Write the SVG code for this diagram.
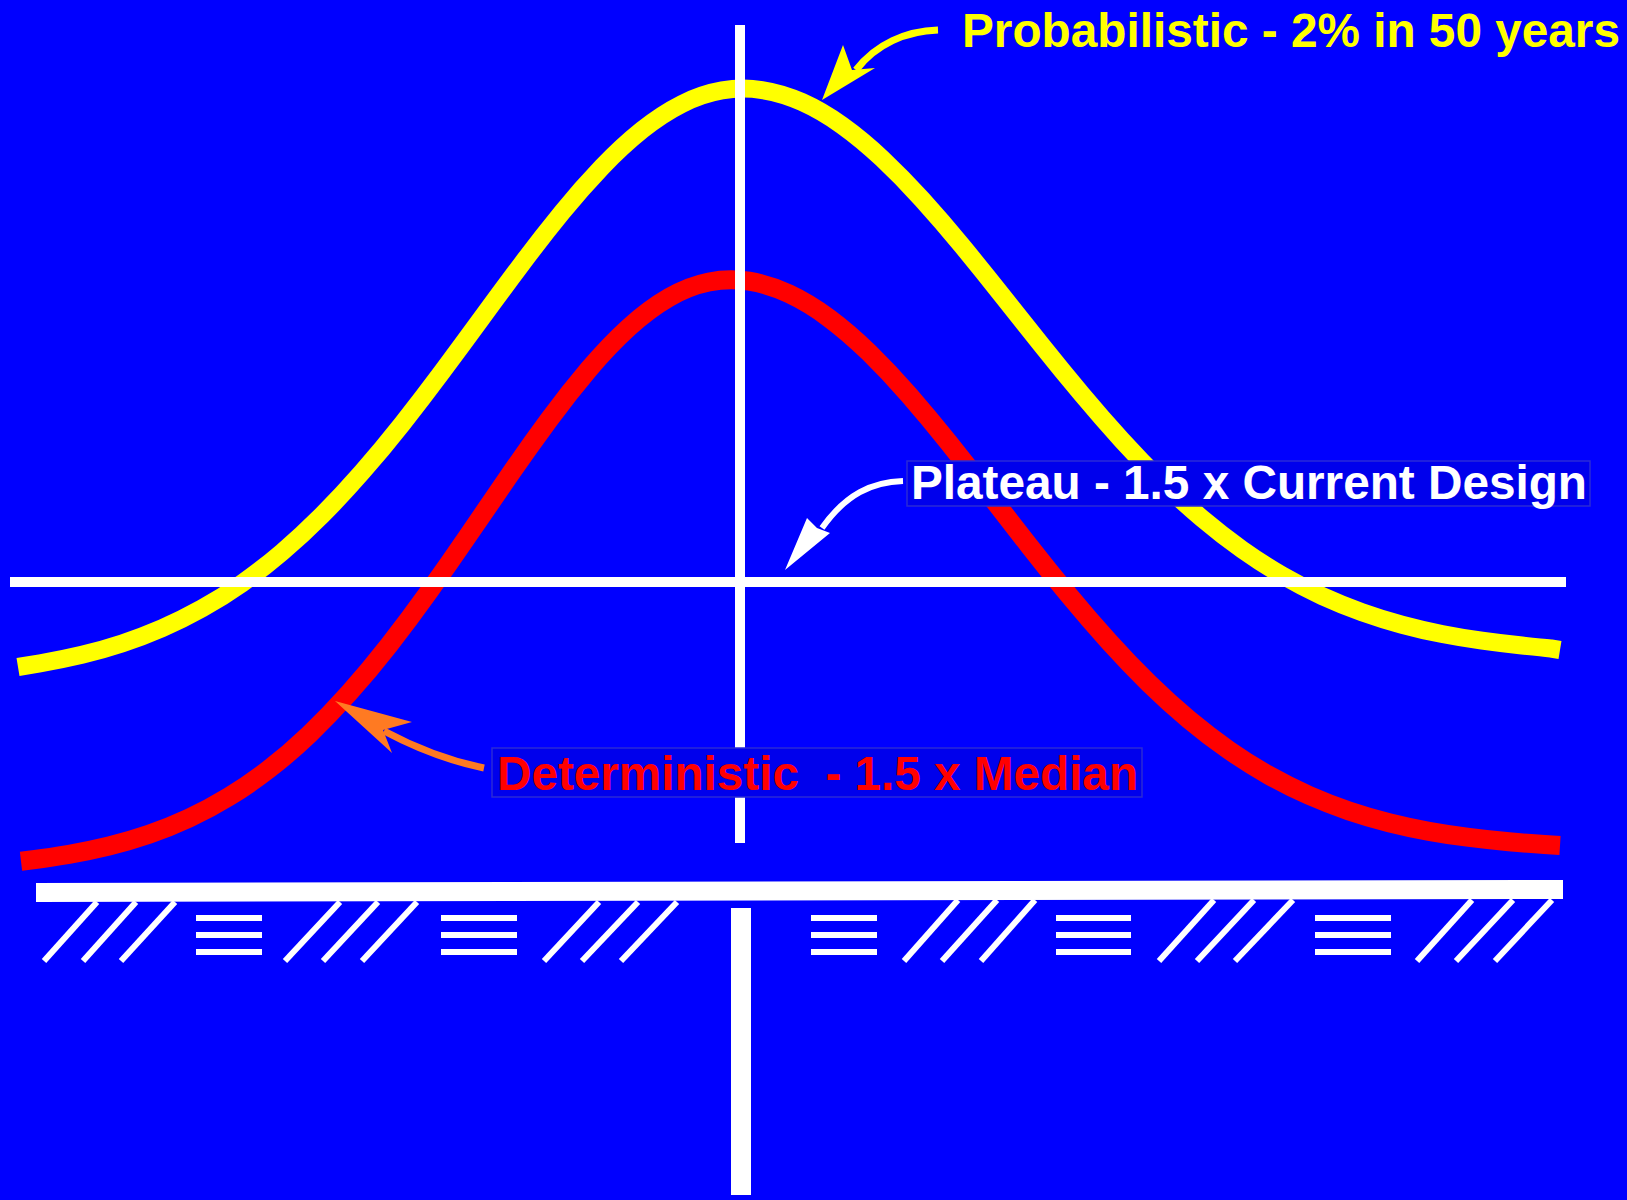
<svg xmlns="http://www.w3.org/2000/svg" width="1627" height="1200" viewBox="0 0 1627 1200">
  <style>
    .curve { fill: none; stroke-linecap: butt; stroke-linejoin: round; }
    .yellow { stroke: #FFFF00; stroke-width: 18; }
    .red { stroke: #FF0000; stroke-width: 19; }
    .white { fill: #FFFFFF; }
    .hatch line { stroke: #FFFFFF; stroke-width: 6; stroke-linecap: butt; }
    .shaft { fill: none; stroke-linecap: butt; }
    .label { font-family: "Liberation Sans", Arial, sans-serif; font-weight: bold; font-size: 48px; }
    .box { fill: #0000EC; stroke: #2A2AD6; stroke-width: 1.5; }
  </style>
  <rect x="0" y="0" width="1627" height="1200" fill="#0000FF"/>

  <g id="curves">
    <path id="probabilistic-curve" class="curve yellow" d="M18,667 L40,663.3 Q62,659.6 82,654.8 Q102,650 122,643.45 Q142,636.9 162,628.25 Q182,619.6 202,608.45 Q222,597.3 242,583.3 Q262,569.3 282,552.25 Q302,535.2 322,515.15 Q342,495.1 362,472.2 Q382,449.3 402,424.05 Q422,398.7 442,371.85 Q462,345 482,317.6 Q502,290.2 522,263.55 Q542,236.9 562,212.4 Q582,187.9 602,167 Q622,146.1 642,130.05 Q662,114 682,103.95 Q702,93.9 722,90.45 Q742,87 762,90.05 Q782,93.1 802,102.05 Q822,111 842,125.35 Q862,139.7 882,158.5 Q902,177.3 922,199.4 Q942,221.5 962,245.8 Q982,270.1 1002,295.35 Q1022,320.6 1042,345.65 Q1062,370.7 1082,394.55 Q1102,418.4 1122,440.4 Q1142,462.4 1162,481.95 Q1182,501.5 1202,518.4 Q1222,535.3 1242,549.5 Q1262,563.7 1282,575.25 Q1302,586.8 1322,595.95 Q1342,605.1 1362,612.2 Q1382,619.3 1402,624.7 Q1422,630.1 1442,634 Q1462,637.9 1482,640.7 Q1502,643.5 1522,645.5 Q1542,647.5 1551,648.5 L1560,650"/>
    <path id="deterministic-curve" class="curve red" d="M21,861.2 L35,859.5 Q49,857.8 69,854.4 Q89,851 109,846.1 Q129,841.2 149,834.35 Q169,827.5 189,818.2 Q209,808.9 229,796.7 Q249,784.5 269,769.05 Q289,753.6 309,734.55 Q329,715.5 349,693.05 Q369,670.6 389,645.05 Q409,619.5 429,591.5 Q449,563.5 469,534.25 Q489,505 509,475.95 Q529,446.9 549,419.75 Q569,392.6 589,369 Q609,345.4 629,327.2 Q649,309 669,297.45 Q689,285.9 709,281.95 Q729,278 749,281.2 Q769,284.4 789,293.75 Q809,303.1 829,318.05 Q849,333 869,352.5 Q889,372 909,395 Q929,418 949,443.05 Q969,468.1 989,494.05 Q1009,520 1029,545.55 Q1049,571.1 1069,595.3 Q1089,619.5 1109,641.65 Q1129,663.8 1149,683.35 Q1169,702.9 1189,719.6 Q1209,736.3 1229,750.2 Q1249,764.1 1269,775.35 Q1289,786.6 1309,795.4 Q1329,804.2 1349,810.95 Q1369,817.7 1389,822.7 Q1409,827.7 1429,831.3 Q1449,834.9 1469,837.45 Q1489,840 1509,841.8 Q1529,843.6 1544.5,844.55 L1560,845.5"/>
  </g>

  <g id="axes">
    <rect id="center-line" class="white" x="735" y="25" width="10" height="818"/>
    <rect id="plateau-line" class="white" x="10" y="577" width="1556" height="10"/>
  </g>

  <g id="ground">
    <polygon class="white" points="36,883 1563,880 1563,899 36,902"/>
    <rect id="post" class="white" x="731" y="908" width="20" height="287"/>
    <g class="hatch">
      <line x1="44" y1="961" x2="97" y2="902"/>
      <line x1="83" y1="961" x2="136" y2="902"/>
      <line x1="121" y1="961" x2="175" y2="902"/>
      <line x1="285" y1="961" x2="340" y2="902"/>
      <line x1="323" y1="961" x2="378" y2="902"/>
      <line x1="362" y1="961" x2="417" y2="902"/>
      <line x1="544" y1="961" x2="599" y2="902"/>
      <line x1="582" y1="961" x2="638" y2="902"/>
      <line x1="621" y1="961" x2="677" y2="902"/>
      <line x1="904" y1="961" x2="958" y2="900"/>
      <line x1="942" y1="961" x2="997" y2="900"/>
      <line x1="981" y1="961" x2="1035" y2="900"/>
      <line x1="1159" y1="961" x2="1214" y2="900"/>
      <line x1="1197" y1="961" x2="1254" y2="900"/>
      <line x1="1235" y1="961" x2="1293" y2="900"/>
      <line x1="1417" y1="961" x2="1472" y2="900"/>
      <line x1="1456" y1="961" x2="1513" y2="900"/>
      <line x1="1495" y1="961" x2="1552" y2="900"/>
    </g>
    <g class="white">
      <rect x="196" y="915" width="66" height="6"/>
      <rect x="196" y="932" width="66" height="6"/>
      <rect x="196" y="949" width="66" height="6"/>
      <rect x="441" y="915" width="76" height="6"/>
      <rect x="441" y="932" width="76" height="6"/>
      <rect x="441" y="949" width="76" height="6"/>
      <rect x="811" y="915" width="66" height="6"/>
      <rect x="811" y="932" width="66" height="6"/>
      <rect x="811" y="949" width="66" height="6"/>
      <rect x="1056" y="915" width="75" height="6"/>
      <rect x="1056" y="932" width="75" height="6"/>
      <rect x="1056" y="949" width="75" height="6"/>
      <rect x="1315" y="915" width="76" height="6"/>
      <rect x="1315" y="932" width="76" height="6"/>
      <rect x="1315" y="949" width="76" height="6"/>
    </g>
  </g>

  <g id="connectors">
    <g id="arrow-probabilistic">
      <path class="shaft" stroke="#FFFF00" stroke-width="7" d="M938,30 C906,31 876,44 856,70"/>
      <polygon fill="#FFFF00" points="822,100 843,45 852,70 875,68"/>
    </g>
    <g id="arrow-plateau">
      <path class="shaft" stroke="#FFFFFF" stroke-width="6" d="M903,481 C872,482 846,494 822,528"/>
      <polygon fill="#FFFFFF" points="785,570 807,518 817,528 830,533"/>
    </g>
    <g id="arrow-deterministic">
      <path class="shaft" stroke="#FF7A22" stroke-width="7" d="M484,768 C445,760 412,746 384,731"/>
      <polygon fill="#FF7A22" points="335,701 412,722 383,730 392,753"/>
    </g>
  </g>

  <g id="label-probabilistic">
    <text class="label" x="962" y="47" fill="#FFFF00" textLength="658" lengthAdjust="spacingAndGlyphs">Probabilistic - 2% in 50 years</text>
  </g>
  <g id="label-plateau">
    <rect class="box" x="907" y="461" width="683" height="45"/>
    <text class="label" x="911" y="499" fill="#FFFFFF" textLength="676" lengthAdjust="spacingAndGlyphs">Plateau - 1.5 x Current Design</text>
  </g>
  <g id="label-deterministic">
    <rect class="box" x="492" y="748" width="650" height="49"/>
    <text class="label" x="497" y="790" fill="#FF0000" textLength="641" lengthAdjust="spacingAndGlyphs" xml:space="preserve">Deterministic  - 1.5 x Median</text>
  </g>
</svg>
